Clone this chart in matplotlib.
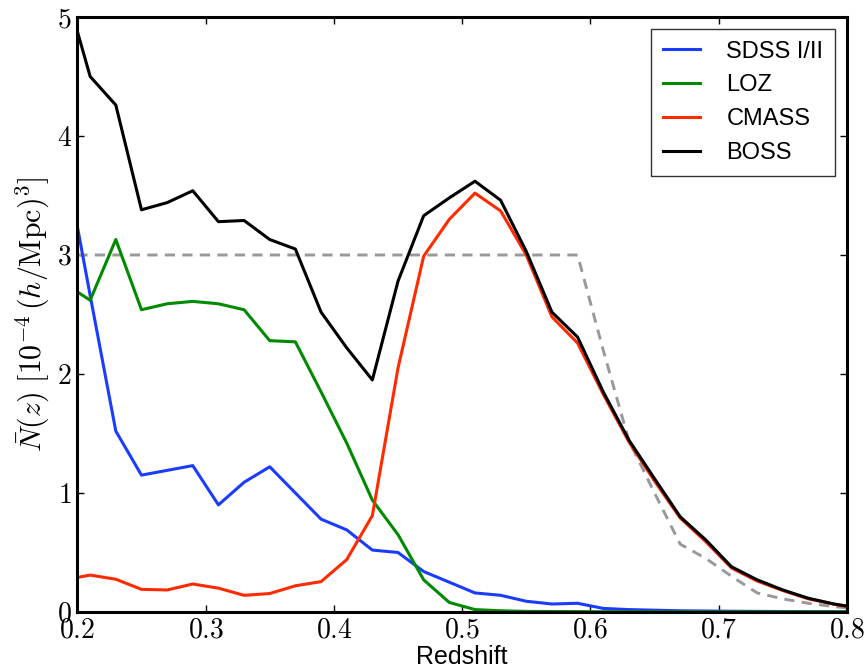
import matplotlib
matplotlib.use("Agg")
import matplotlib.pyplot as plt

plt.rcParams['mathtext.fontset'] = 'cm'
plt.rcParams['font.family'] = ['Liberation Sans', 'DejaVu Sans']

# Redshift bins
z = [0.20, 0.21, 0.23, 0.25, 0.27, 0.29, 0.31, 0.33, 0.35, 0.37, 0.39,
     0.41, 0.43, 0.45, 0.47, 0.49, 0.51, 0.53, 0.55, 0.57, 0.59, 0.61,
     0.63, 0.65, 0.67, 0.69, 0.71, 0.73, 0.75, 0.77, 0.79, 0.80]

# Comoving number density, units of 1e-4 (h/Mpc)^3
sdss = [3.24, 2.66, 1.52, 1.15, 1.19, 1.23, 0.90, 1.09, 1.22, 1.00, 0.78,
        0.69, 0.52, 0.50, 0.34, 0.25, 0.16, 0.14, 0.09, 0.067, 0.073, 0.03,
        0.02, 0.015, 0.01, 0.008, 0.006, 0.005, 0.004, 0.003, 0.002, 0.002]
loz = [2.69, 2.62, 3.13, 2.54, 2.59, 2.61, 2.59, 2.54, 2.28, 2.27, 1.85,
       1.42, 0.94, 0.65, 0.27, 0.08, 0.02, 0.01, 0.005, 0.004, 0.003, 0.002,
       0.002, 0.001, 0.001, 0.001, 0.001, 0.001, 0.001, 0.001, 0.001, 0.001]
cmass = [0.29, 0.31, 0.275, 0.19, 0.185, 0.235, 0.20, 0.14, 0.155, 0.22, 0.255,
         0.44, 0.81, 2.05, 2.99, 3.30, 3.52, 3.37, 3.00, 2.48, 2.26, 1.83,
         1.43, 1.10, 0.79, 0.59, 0.37, 0.26, 0.18, 0.11, 0.065, 0.045]
boss = [4.88, 4.50, 4.26, 3.38, 3.44, 3.54, 3.28, 3.29, 3.13, 3.05, 2.52,
        2.22, 1.95, 2.78, 3.33, 3.48, 3.62, 3.46, 3.03, 2.52, 2.31, 1.85,
        1.445, 1.12, 0.80, 0.605, 0.38, 0.27, 0.185, 0.115, 0.067, 0.05]
# Target density used for the mock catalogues
target = [3.0, 3.0, 3.0, 3.0, 3.0, 3.0, 3.0, 3.0, 3.0, 3.0, 3.0,
          3.0, 3.0, 3.0, 3.0, 3.0, 3.0, 3.0, 3.0, 3.0, 3.0, 2.2,
          1.44, 1.0, 0.57, 0.45, 0.30, 0.16, 0.11, 0.073, 0.045, 0.035]

series = [("SDSS I/II", sdss, "#1a3cff"),
          ("LOZ", loz, "#008a00"),
          ("CMASS", cmass, "#ff2a00"),
          ("BOSS", boss, "#000000")]

fig = plt.figure(figsize=(8.66, 6.67), dpi=100)
ax = fig.add_axes([0.0893, 0.0825, 0.8887, 0.892])

ax.plot(z, target, color="#999999", lw=2.1, ls=(0, (3.5, 2.5)))
for name, vals, col in series:
    ax.plot(z, vals, color=col, lw=2.2, label=name)

ax.set_xlim(0.2, 0.8)
ax.set_ylim(0, 5)
ax.set_xticks([0.2, 0.3, 0.4, 0.5, 0.6, 0.7, 0.8])
ax.set_yticks([0, 1, 2, 3, 4, 5])
ax.set_xticklabels([f"${t:.1f}$" for t in ax.get_xticks()])
ax.set_yticklabels([f"${int(t)}$" for t in ax.get_yticks()])
ax.tick_params(direction="in", length=5, width=1, top=True, right=True,
               labelsize=20, pad=4)
for sp in ax.spines.values():
    sp.set_linewidth(2.2)

ax.set_xlabel("Redshift", fontsize=18, labelpad=1)
ax.set_ylabel(r"$\bar{N}(z)\ [10^{-4}\,(h/{\rm Mpc})^3]$", fontsize=21.5, labelpad=3)

leg = ax.legend(loc="upper right", fontsize=17, frameon=True, fancybox=False,
                handlelength=1.57, handletextpad=1.1, borderpad=0.5,
                labelspacing=0.5, borderaxespad=0.5)
leg.get_frame().set_edgecolor("black")
leg.get_frame().set_linewidth(1)

fig.savefig("out.png", dpi=100)
